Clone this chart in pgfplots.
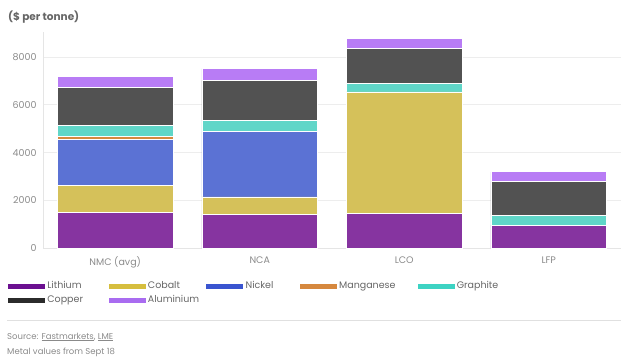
\documentclass[border=0pt]{standalone}
\usepackage{fontspec}
\setmainfont{Poppins}
\usepackage{pgfplots}
\pgfplotsset{compat=1.18}
\definecolor{lith}{HTML}{8634A0}
\definecolor{cob}{HTML}{D5C15A}
\definecolor{nick}{HTML}{5B72D4}
\definecolor{mang}{HTML}{D6883E}
\definecolor{graph}{HTML}{60D6C8}
\definecolor{copp}{HTML}{525252}
\definecolor{alum}{HTML}{B87CF5}
\definecolor{lithL}{HTML}{6B1090}
\definecolor{cobL}{HTML}{D6BE3E}
\definecolor{nickL}{HTML}{3A55D0}
\definecolor{mangL}{HTML}{D6883E}
\definecolor{graphL}{HTML}{3DD3C3}
\definecolor{coppL}{HTML}{2B2B2B}
\definecolor{alumL}{HTML}{A96CF0}
\definecolor{txt}{HTML}{666666}
\definecolor{ticktxt}{HTML}{8A8A8A}
\pgfplotstableread{
x Li Co Ni Mn Gr Cu Al
0 1490 1150 1920 130 460 1570 470
1 1420 730 2740 0 460 1670 490
2 1460 5080 0 0 370 1460 390
3 970 0 0 0 420 1390 420
}\data
\begin{document}
\begin{tikzpicture}
\path[use as bounding box] (-43bp,-108.7bp) rectangle (578bp,248.3bp);
\begin{axis}[
  at={(0bp,0bp)}, anchor=south west,
  scale only axis, width=578bp, height=216bp,
  xmin=-0.5, xmax=3.5, ymin=0, ymax=9030,
  ybar stacked, bar width=0.8,
  xtick={0,1,2,3}, xticklabels={NMC (avg),NCA,LCO,LFP},
  ytick={0,2000,4000,6000,8000},
  /pgf/number format/1000 sep={},
  /pgf/number format/assume math mode=true,
  major tick length=0pt,
  ymajorgrids, grid style={draw=black!7, line width=0.6bp},
  axis x line*=bottom, axis y line*=left,
  axis line style={draw=black!10, line width=0.6bp, -},
  tick label style={font=\fontsize{9.5bp}{11bp}\selectfont, text=ticktxt},
  yticklabel style={xshift=-3bp},
  xticklabel style={yshift=-5bp},
  every axis plot/.append style={draw=white, line width=0.6bp},
  legend image code/.code={\fill[#1] (0bp,-3bp) rectangle (38bp,3bp);},
  legend columns=5,
  legend style={at={(-0.0623,-0.155)}, anchor=north west, draw=none, fill=none,
    inner sep=0pt, row sep=5bp, column sep=0pt,
    font=\fontsize{9.5bp}{11bp}\selectfont, text=txt,
    nodes={inner xsep=0pt, inner ysep=0pt, text height=7bp, text depth=2bp, anchor=west}},
]
\addplot[fill=lith, forget plot] table[x=x, y=Li] {\data};
\addplot[fill=cob, forget plot] table[x=x, y=Co] {\data};
\addplot[fill=nick, forget plot] table[x=x, y=Ni] {\data};
\addplot[fill=mang, forget plot] table[x=x, y=Mn] {\data};
\addplot[fill=graph, forget plot] table[x=x, y=Gr] {\data};
\addplot[fill=copp, forget plot] table[x=x, y=Cu] {\data};
\addplot[fill=alum, forget plot] table[x=x, y=Al] {\data};
\addlegendimage{fill=lithL}
\addlegendentry{\makebox[62bp][l]{\,Lithium}}
\addlegendimage{fill=cobL}
\addlegendentry{\makebox[59bp][l]{\,Cobalt}}
\addlegendimage{fill=nickL}
\addlegendentry{\makebox[55bp][l]{\,Nickel}}
\addlegendimage{fill=mangL}
\addlegendentry{\makebox[79bp][l]{\,Manganese}}
\addlegendimage{fill=graphL}
\addlegendentry{\makebox[60bp][l]{\,Graphite}}
\addlegendimage{fill=coppL}
\addlegendentry{\makebox[62bp][l]{\,Copper}}
\addlegendimage{fill=alumL}
\addlegendentry{\makebox[59bp][l]{\,Aluminium}}
\end{axis}
\node[anchor=west, inner sep=0pt, text=txt, font=\fontsize{10.5bp}{12bp}\selectfont\bfseries] at (-35bp,231bp) {(\$ per tonne)};
\draw[draw=black!12, line width=0.7bp] (-36bp,-71.7bp) -- (578bp,-71.7bp);
\node[anchor=west, inner sep=0pt, text=ticktxt, font=\fontsize{8.5bp}{10bp}\selectfont] at (-36bp,-88.7bp) {Source: \underline{Fastmarkets}, \underline{LME}};
\node[anchor=west, inner sep=0pt, text=ticktxt, font=\fontsize{8.5bp}{10bp}\selectfont] at (-36bp,-103.7bp) {Metal values from Sept 18};
\end{tikzpicture}
\end{document}
